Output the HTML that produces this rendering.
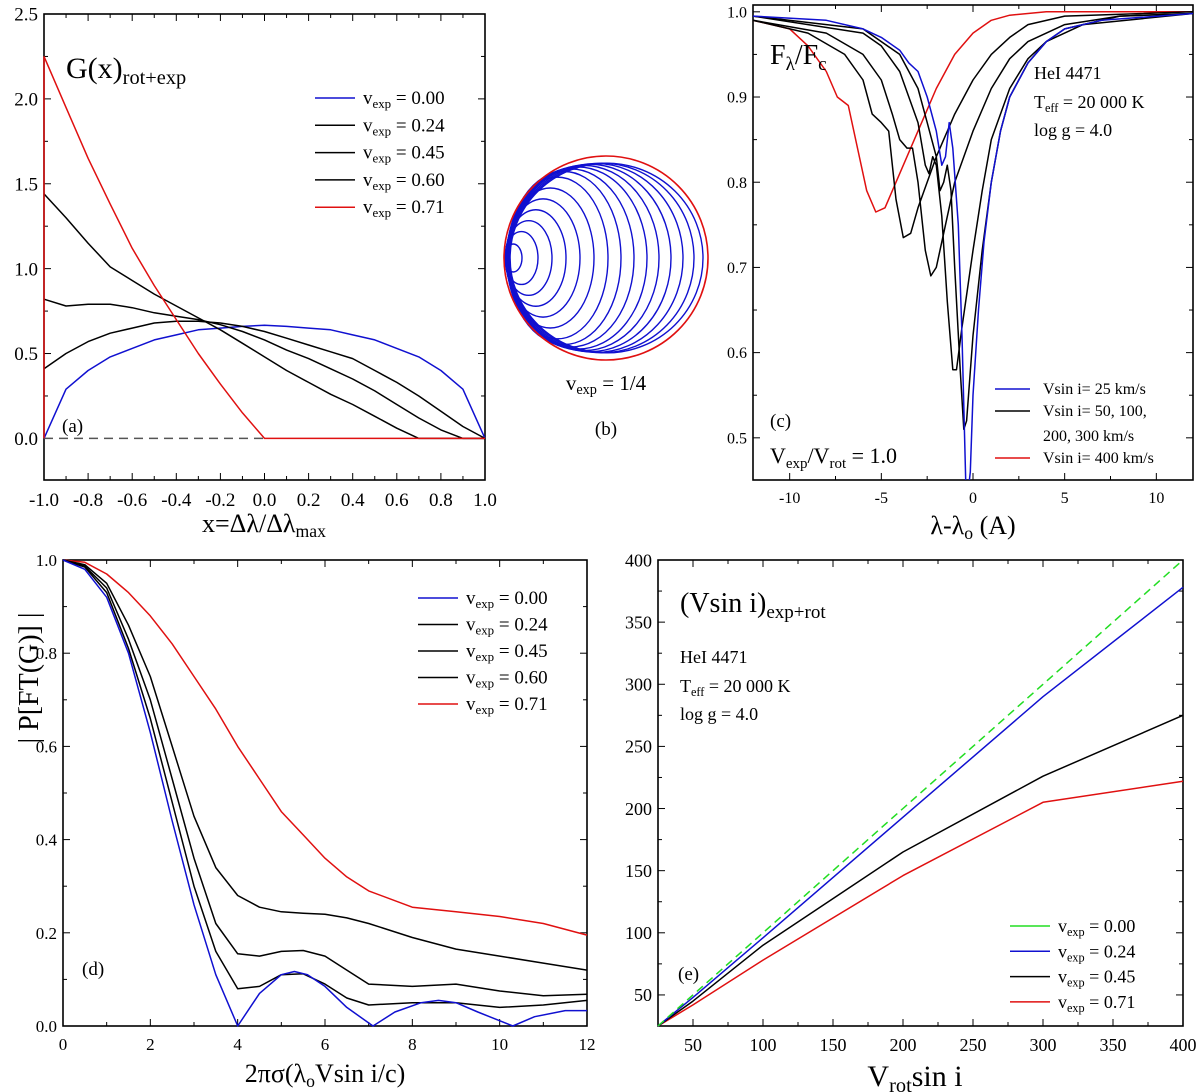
<!DOCTYPE html>
<html><head><meta charset="utf-8"><style>
body{margin:0;background:#fff}
svg{display:block;font-family:"Liberation Serif","DejaVu Serif",serif}
</style></head><body>
<svg id="fig" width="1200" height="1092" viewBox="0 0 1200 1092" xmlns="http://www.w3.org/2000/svg">
<g id="g-a"></g>
<g id="g-b"></g>
<g id="g-c"></g>
<g id="g-d"></g>
<g id="g-e"></g>
</svg>
<script>
// ---- Panel (a) data ----
const aX = [-1,-0.9,-0.8,-0.7,-0.6,-0.5,-0.4,-0.3,-0.2,-0.1,0,0.1,0.2,0.3,0.4,0.5,0.6,0.7,0.8,0.9,1];
const aBlue = [0,0.29,0.40,0.48,0.53,0.58,0.61,0.64,0.65,0.66,0.667,0.66,0.65,0.64,0.61,0.58,0.53,0.48,0.40,0.29,0];
const a024 = [0.41,0.50,0.57,0.62,0.65,0.68,0.69,0.69,0.68,0.66,0.63,0.59,0.55,0.51,0.47,0.40,0.33,0.25,0.16,0.07,0];
const a045 = [0.82,0.78,0.79,0.79,0.77,0.74,0.72,0.70,0.67,0.63,0.58,0.52,0.47,0.41,0.35,0.28,0.20,0.12,0.05,0,0];
const a060 = [1.44,1.30,1.15,1.01,0.93,0.85,0.78,0.71,0.64,0.56,0.48,0.40,0.33,0.26,0.20,0.13,0.06,0,0,0,0];
const a071 = [2.25,1.95,1.65,1.38,1.12,0.90,0.70,0.50,0.32,0.15,0,0,0,0,0,0,0,0,0,0,0];
const aYTicks = [0,0.5,1.0,1.5,2.0,2.5];
const aXTicks = [-1,-0.8,-0.6,-0.4,-0.2,0,0.2,0.4,0.6,0.8,1];
const aLegend = ["0.00","0.24","0.45","0.60","0.71"];

// ---- Panel (c) data ----
const cBlueX = [-12,-8,-6,-5,-4,-3.5,-3,-2.5,-2,-1.7,-1.5,-1.3,-1.1,-0.8,-0.6,-0.4,-0.3,-0.15,0,0.3,0.6,1,1.5,2,3,4,5,7,12];
const cBlueY = [.995,.99,.98,.97,.955,.94,.93,.90,.86,.82,.83,.87,.84,.75,.62,.45,.43,.46,.55,.65,.73,.80,.86,.90,.94,.965,.98,.99,.998];
const c50X = [-12,-6,-4,-3,-2.5,-2,-1.8,-1.6,-1.4,-1.2,-1,-0.7,-0.5,-0.35,0,0.5,1,1.5,2,3,4,5,8,12];
const c50Y = [.995,.98,.95,.91,.87,.83,.79,.80,.82,.79,.70,.58,.51,.52,.62,.72,.80,.86,.90,.94,.965,.98,.995,.998];
const c100X = [-12,-6,-5,-4,-3,-2.6,-2.4,-2.2,-2,-1.7,-1.4,-1.1,-0.9,-0.6,0,0.5,1,2,3,4,6,12];
const c100Y = [.995,.975,.96,.93,.87,.82,.81,.83,.82,.76,.66,.58,.58,.63,.72,.79,.85,.91,.945,.965,.985,.998];
const c200X = [-12,-8,-6,-5,-4.4,-4,-3.6,-3.3,-3,-2.6,-2.3,-2,-1.5,-1,0,1,2,3,5,8,12];
const c200Y = [.99,.975,.95,.92,.88,.85,.84,.84,.80,.72,.69,.70,.75,.80,.86,.91,.945,.965,.985,.995,.998];
const c300X = [-12,-9,-7,-6,-5.5,-5,-4.6,-4.2,-3.8,-3.4,-3,-2,-1,0,1,2,3,5,12];
const c300Y = [.99,.975,.95,.92,.88,.87,.86,.78,.735,.74,.77,.83,.88,.92,.95,.97,.985,.995,1.0];
const c400X = [-12,-10,-9,-8,-7.4,-6.8,-6.3,-5.8,-5.3,-4.8,-4.2,-3,-2,-1,0,1,2,4,12];
const c400Y = [.99,.98,.96,.93,.90,.89,.84,.79,.765,.77,.80,.86,.91,.95,.975,.99,.996,1.0,1.0];
const cXTicks = [-10,-5,0,5,10];
const cYTicks = [0.5,0.6,0.7,0.8,0.9,1.0];

// ---- Panel (d) data ----
const dBlueX = [0,0.5,1,1.5,2,2.5,3,3.5,4,4.5,5,5.3,5.6,6,6.5,7.1,7.6,8.2,8.6,9,9.5,10.3,10.8,11.5,12];
const dBlueY = [1,0.98,0.92,0.80,0.63,0.44,0.26,0.11,0,0.07,0.11,0.117,0.11,0.085,0.04,0,0.03,0.05,0.055,0.05,0.03,0,0.02,0.033,0.033];
const dX = [0,0.5,1,1.5,2,2.5,3,3.5,4,4.5,5,5.5,6,6.5,7,8,9,10,11,12];
const d024 = [1,0.985,0.93,0.81,0.66,0.48,0.30,0.16,0.08,0.085,0.11,0.112,0.09,0.06,0.045,0.05,0.05,0.04,0.045,0.055];
const d045 = [1,0.987,0.94,0.83,0.70,0.53,0.36,0.22,0.155,0.15,0.16,0.162,0.15,0.12,0.09,0.085,0.09,0.075,0.065,0.068];
const d060 = [1,0.99,0.95,0.86,0.75,0.60,0.45,0.34,0.28,0.255,0.245,0.242,0.24,0.232,0.22,0.19,0.165,0.15,0.135,0.12];
const d071 = [1,0.995,0.97,0.93,0.88,0.82,0.75,0.68,0.60,0.53,0.46,0.41,0.36,0.32,0.29,0.255,0.245,0.235,0.22,0.195];
const dXTicks = [0,2,4,6,8,10,12];
const dYTicks = [0,0.2,0.4,0.6,0.8,1.0];
const dLegend = ["0.00","0.24","0.45","0.60","0.71"];

// ---- Panel (e) data ----
const eX = [25,50,100,200,300,400];
const eGreen = [25,50,100,200,300,400];
const eBlue = [25,48,96,193,290,378];
const eBlack = [25,45,90,165,226,275];
const eRed = [25,42,78,146,205,222];
const eXTicks = [50,100,150,200,250,300,350,400];
const eYTicks = [50,100,150,200,250,300,350,400];
const eLegend = ["0.00","0.24","0.45","0.71"];

const NS = "http://www.w3.org/2000/svg";
function mk(parent, tag, attrs, text){
  const el = document.createElementNS(NS, tag);
  for (const k in attrs) el.setAttribute(k, attrs[k]);
  if (text !== undefined) el.textContent = text;
  parent.appendChild(el);
  return el;
}
function axis(x0,x1,y0,y1,xmin,xmax,ymin,ymax){
  return {X:v=>x0+(v-xmin)/(xmax-xmin)*(x1-x0), Y:v=>y1-(v-ymin)/(ymax-ymin)*(y1-y0), x0,x1,y0,y1};
}
function line(g, ax, xs, ys, color, name, dash){
  let d = xs.map((x,i)=>(i?"L":"M")+ax.X(x).toFixed(1)+" "+ax.Y(ys[i]).toFixed(1)).join(" ");
  const p = mk(g,"path",{d:d,fill:"none",stroke:color,"stroke-width":1.5,"stroke-linejoin":"round"});
  if (dash) p.setAttribute("stroke-dasharray",dash);
  
  
  return p;
}
function frame(g, ax, xt, yt, xminor, yminor, xfmt, yfmt, fs){
  const r = mk(g,"rect",{x:ax.x0,y:ax.y0,width:ax.x1-ax.x0,height:ax.y1-ax.y0,fill:"none",stroke:"#000","stroke-width":1.6});
  
  
  xt.forEach(v=>{
    const x=ax.X(v);
    mk(g,"line",{x1:x,x2:x,y1:ax.y1,y2:ax.y1-7,stroke:"#000"});
    mk(g,"line",{x1:x,x2:x,y1:ax.y0,y2:ax.y0+7,stroke:"#000"});
    const t = mk(g,"text",{x:x,y:ax.y1+fs+7,"text-anchor":"middle","font-size":fs},xfmt(v));
    
    
  });
  xminor.forEach(v=>{const x=ax.X(v);
    mk(g,"line",{x1:x,x2:x,y1:ax.y1,y2:ax.y1-4,stroke:"#000"});
    mk(g,"line",{x1:x,x2:x,y1:ax.y0,y2:ax.y0+4,stroke:"#000"});});
  yt.forEach(v=>{
    const y=ax.Y(v);
    mk(g,"line",{x1:ax.x0,x2:ax.x0+7,y1:y,y2:y,stroke:"#000"});
    mk(g,"line",{x1:ax.x1,x2:ax.x1-7,y1:y,y2:y,stroke:"#000"});
    const t = mk(g,"text",{x:ax.x0-6,y:y+fs*0.35,"text-anchor":"end","font-size":fs},yfmt(v));
    
    
  });
  yminor.forEach(v=>{const y=ax.Y(v);
    mk(g,"line",{x1:ax.x0,x2:ax.x0+4,y1:y,y2:y,stroke:"#000"});
    mk(g,"line",{x1:ax.x1,x2:ax.x1-4,y1:y,y2:y,stroke:"#000"});});
}
function rich(g, x, y, parts, fs, anchor, name){
  const t = mk(g,"text",{x:x,y:y,"font-size":fs,"text-anchor":anchor||"start"});
  
  
  parts.forEach(p=>{
    const s = mk(t,"tspan",{});
    if (p[1]==="sub"){ s.setAttribute("baseline-shift","-30%"); s.setAttribute("font-size",fs*0.68); }
    s.textContent = p[0];
  });
  return t;
}
function vexpLegend(g, x, y, color, val, fs){
  const l = mk(g,"line",{x1:x,x2:x+40,y1:y,y2:y,stroke:color,"stroke-width":1.5});
  
  
  rich(g, x+48, y+6, [["v",""],["exp","sub"],[" = "+val,""]], fs, "start", "legend-entry");
}

// ===== Panel (a)
(function(){
  const g = document.getElementById("g-a");
  const ax = axis(44,485,14,480,-1,1,-0.245,2.5);
  frame(g, ax, aXTicks, aYTicks, [-0.9,-0.7,-0.5,-0.3,-0.1,0.1,0.3,0.5,0.7,0.9], [0.25,0.75,1.25,1.75,2.25], v=>v.toFixed(1), v=>v.toFixed(1), 19);
  line(g, ax, [-1,0], [0,0], "#555", "zero-dashed-line", "9,6");
  line(g, ax, aX, aBlue, "#1010d0", "line-vexp-0.00");
  line(g, ax, aX, a024, "#000", "line-vexp-0.24");
  line(g, ax, aX, a045, "#000", "line-vexp-0.45");
  line(g, ax, aX, a060, "#000", "line-vexp-0.60");
  line(g, ax, [-1,-1], [0,a071[0]], "#e01010", "line-vexp-0.71-edge");
  line(g, ax, aX, a071, "#e01010", "line-vexp-0.71");
  rich(g, 66, 78, [["G(x)",""],["rot+exp","sub"]], 30, "start", "panel-a-title");
  const cols = ["#1010d0","#000","#000","#000","#e01010"];
  aLegend.forEach((v,i)=>vexpLegend(g, 315, 98+i*27.3, cols[i], v, 19));
  rich(g, 62, 432, [["(a)",""]], 19, "start", "panel-a-label");
  rich(g, 264, 532, [["x=Δλ/Δλ",""],["max","sub"]], 26, "middle", "x-axis-title-a");
})();

// ===== Panel (b)
(function(){
  const g = document.getElementById("g-b");
  const cx=606, cy=258, R=102;
  const rights=[522,538,552,566,580,594,608,621,634,647,659,671,683,694,703];
  rights.forEach((r,i)=>{
    const l = 504.5 + i*0.4;
    const ecx=(l+r)/2, rx=(r-l)/2;
    const lim = Math.sqrt(Math.max(0,R*R-(ecx-cx)*(ecx-cx)))*0.93;
    const ry = Math.min(lim, rx*1.6);
    const e = mk(g,"ellipse",{cx:ecx,cy:cy,rx:rx,ry:ry,fill:"none",stroke:"#1010d0","stroke-width":1.4});
    
    
  });
  const c = mk(g,"circle",{cx:cx,cy:cy,r:R,fill:"none",stroke:"#e01010","stroke-width":1.6});
  
  
  rich(g, 606, 390, [["v",""],["exp","sub"],[" = 1/4",""]], 21, "middle", "panel-b-caption");
  rich(g, 606, 435, [["(b)",""]], 19, "middle", "panel-b-label");
})();

// ===== Panel (c)
(function(){
  const g = document.getElementById("g-c");
  const ax = axis(753,1193,5,480,-12,12,0.4505,1.008);
  frame(g, ax, cXTicks, cYTicks, [-7.5,-2.5,2.5,7.5], [0.55,0.65,0.75,0.85,0.95], v=>String(v), v=>v.toFixed(1), 16);
  const cp = mk(g,"clipPath",{id:"clipc"});
  mk(cp,"rect",{x:753,y:5,width:440,height:475});
  const gg = mk(g,"g",{"clip-path":"url(#clipc)"});
  line(gg, ax, c400X, c400Y, "#e01010", "line-vsini-400");
  line(gg, ax, c300X, c300Y, "#000", "line-vsini-300");
  line(gg, ax, c200X, c200Y, "#000", "line-vsini-200");
  line(gg, ax, c100X, c100Y, "#000", "line-vsini-100");
  line(gg, ax, c50X, c50Y, "#000", "line-vsini-50");
  line(gg, ax, cBlueX, cBlueY, "#1010d0", "line-vsini-25");
  rich(g, 770, 64, [["F",""],["λ","sub"],["/F",""],["c","sub"]], 28, "start", "panel-c-title");
  rich(g, 1034, 79, [["HeI 4471",""]], 18, "start", "line-label");
  rich(g, 1034, 108, [["T",""],["eff","sub"],[" = 20 000 K",""]], 18, "start", "teff-label");
  rich(g, 1034, 136, [["log g = 4.0",""]], 18, "start", "logg-label");
  const L=[["#1010d0",389,"Vsin i= 25 km/s"],["#000",411,"Vsin i= 50, 100,"],["#e01010",458,"Vsin i= 400 km/s"]];
  L.forEach(e=>{
    const l = mk(g,"line",{x1:995,x2:1030,y1:e[1],y2:e[1],stroke:e[0],"stroke-width":1.5});
    
    
    rich(g, 1043, e[1]+5, [[e[2],""]], 16, "start", "legend-entry");
  });
  rich(g, 1043, 441, [["200, 300 km/s",""]], 16, "start", "legend-entry-cont");
  rich(g, 770, 427, [["(c)",""]], 19, "start", "panel-c-label");
  rich(g, 770, 463, [["V",""],["exp","sub"],["/V",""],["rot","sub"],[" = 1.0",""]], 22, "start", "ratio-label");
  rich(g, 973, 534, [["λ-λ",""],["o","sub"],[" (A)",""]], 26, "middle", "x-axis-title-c");
})();

// ===== Panel (d)
(function(){
  const g = document.getElementById("g-d");
  const ax = axis(63,587,560,1026,0,12,0,1);
  frame(g, ax, dXTicks, dYTicks, [1,3,5,7,9,11], [0.1,0.3,0.5,0.7,0.9], v=>String(v), v=>v.toFixed(1), 17);
  line(g, ax, dX, d071, "#e01010", "line-vexp-0.71");
  line(g, ax, dX, d060, "#000", "line-vexp-0.60");
  line(g, ax, dX, d045, "#000", "line-vexp-0.45");
  line(g, ax, dX, d024, "#000", "line-vexp-0.24");
  line(g, ax, dBlueX, dBlueY, "#1010d0", "line-vexp-0.00");
  const cols = ["#1010d0","#000","#000","#000","#e01010"];
  dLegend.forEach((v,i)=>vexpLegend(g, 418, 598+i*26.5, cols[i], v, 19));
  rich(g, 82, 975, [["(d)",""]], 19, "start", "panel-d-label");
  const yt = rich(g, 0, 0, [["| P[FT(G)] |",""]], 28, "middle", "y-axis-title-d");
  yt.setAttribute("transform","translate(38,678) rotate(-90)");
  rich(g, 325, 1082, [["2πσ(λ",""],["o","sub"],["Vsin i/c)",""]], 26, "middle", "x-axis-title-d");
})();

// ===== Panel (e)
(function(){
  const g = document.getElementById("g-e");
  const ax = axis(658,1183,560,1026,25,400,25,400);
  frame(g, ax, eXTicks, eYTicks, [75,125,175,225,275,325,375], [75,125,175,225,275,325,375], v=>String(v), v=>String(v), 18);
  line(g, ax, eX, eRed, "#e01010", "line-vexp-0.71");
  line(g, ax, eX, eBlack, "#000", "line-vexp-0.45");
  line(g, ax, eX, eBlue, "#1010d0", "line-vexp-0.24");
  line(g, ax, eX, eGreen, "#22dd22", "line-vexp-0.00", "8,5");
  const cols = ["#22dd22","#1010d0","#000","#e01010"];
  eLegend.forEach((v,i)=>vexpLegend(g, 1010, 926+i*25.3, cols[i], v, 18));
  rich(g, 680, 612, [["(Vsin i)",""],["exp+rot","sub"]], 28, "start", "panel-e-title");
  rich(g, 680, 663, [["HeI 4471",""]], 18, "start", "line-label-e");
  rich(g, 680, 692, [["T",""],["eff","sub"],[" = 20 000 K",""]], 18, "start", "teff-label-e");
  rich(g, 680, 720, [["log g = 4.0",""]], 18, "start", "logg-label-e");
  rich(g, 678, 980, [["(e)",""]], 19, "start", "panel-e-label");
  rich(g, 915, 1086, [["V",""],["rot","sub"],["sin i",""]], 30, "middle", "x-axis-title-e");
})();
</script>
</body></html>
